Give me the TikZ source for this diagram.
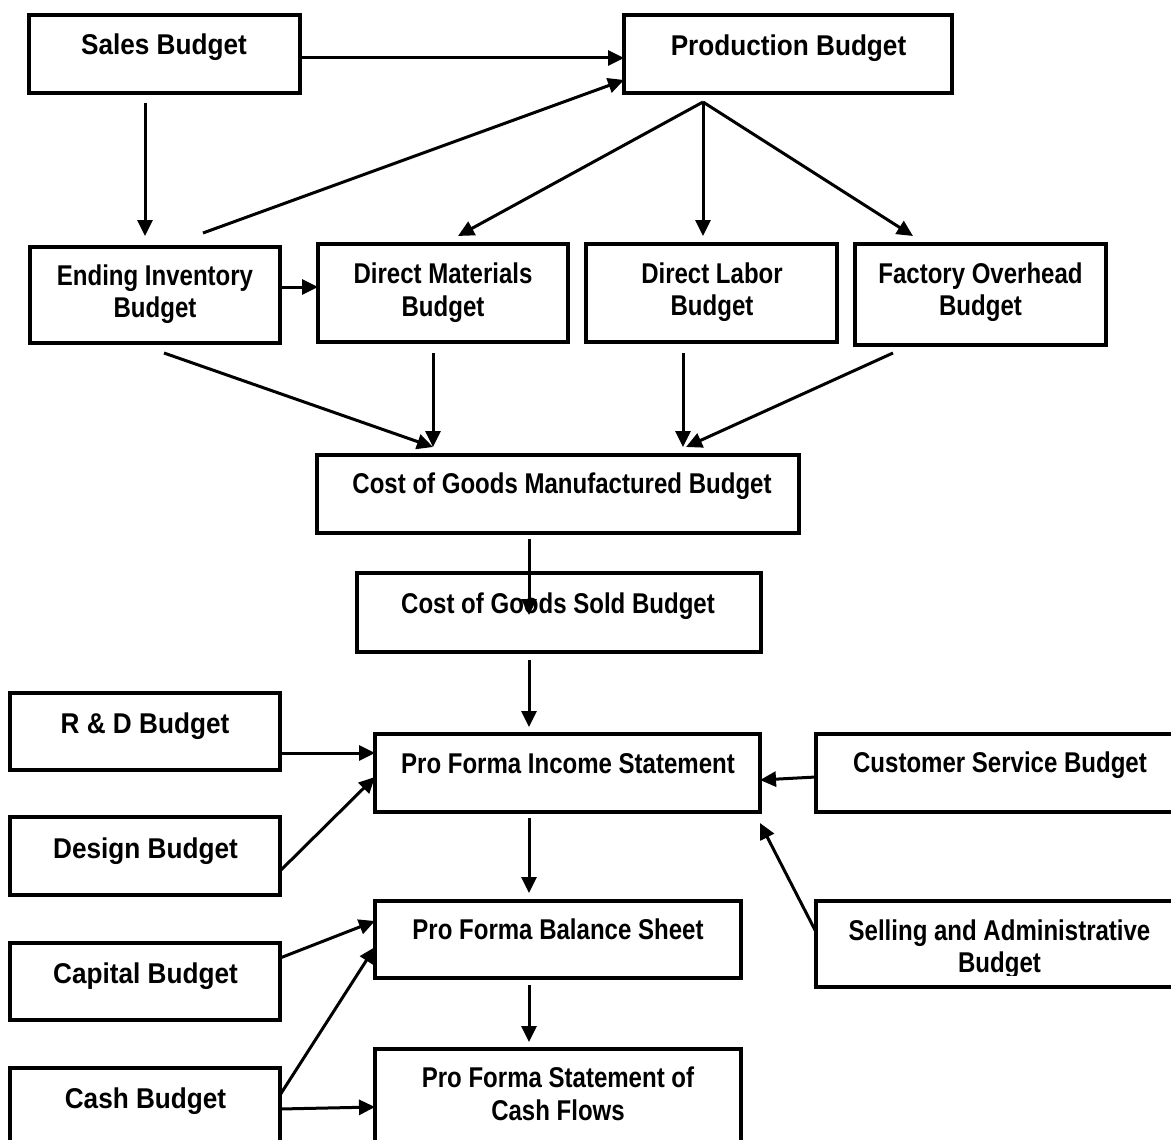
\documentclass[tikz,border=0pt]{standalone}
\usepackage{fontspec}
\newfontfamily\fa{Liberation Sans}[FakeStretch=0.84]
\newfontfamily\fb{Liberation Sans}[FakeStretch=0.915]
\usetikzlibrary{arrows.meta,calc,fit}
\begin{document}
\begin{tikzpicture}[x=1pt,y=-1pt,
  box/.style={draw, line width=3.6pt, inner sep=0pt, outer sep=0pt},
  arr/.style={line width=3pt, -{Triangle[length=16pt,width=15pt]}},
  ta/.style={anchor=base, inner sep=0pt, font=\fa\bfseries\fontsize{28.6}{32}\selectfont},
  tb/.style={anchor=base, inner sep=0pt, font=\fb\bfseries\fontsize{28.6}{32}\selectfont}]
\useasboundingbox (0,0) rectangle (1171,1140);
\fill[white] (0,0) rectangle (1171,1140);

% boxes
\node[box, fit={(29,15)(300,93)}] (sales) {};
\node[box, fit={(624,15)(952,93)}] (prod) {};
\node[box, fit={(30,247)(280,343)}] (ei) {};
\node[box, fit={(318,244)(568,342)}] (dm) {};
\node[box, fit={(586,244)(837,342)}] (dl) {};
\node[box, fit={(855,244)(1106,345)}] (fo) {};
\node[box, fit={(317,455)(799,533)}] (cgm) {};
\node[box, fit={(357,573)(761,652)}] (cgs) {};
\node[box, fit={(10,693)(280,770)}] (rd) {};
\node[box, fit={(375,734)(760,812)}] (pfis) {};
\node[box, fit={(816,734)(1190,812)}] (cs) {};
\node[box, fit={(10,817)(280,895)}] (design) {};
\node[box, fit={(816,901)(1190,987)}] (sa) {};
\node[box, fit={(375,901)(741,978)}] (pfbs) {};
\node[box, fit={(10,943)(280,1020)}] (capital) {};
\node[box, fit={(10,1068)(280,1160)}] (cash) {};
\node[box, fit={(375,1049)(741,1160)}] (pfscf) {};

% texts
\node[tb] (t1) at (164,55) {Sales Budget};
\node[tb] (t2) at (788.5,56) {Production Budget};
\node[ta] (t3) at (155,285) {Ending Inventory};
\node[ta] (t3b) at (155,317) {Budget};
\node[ta] (t4) at (443,283) {Direct Materials};
\node[ta] (t4b) at (443,316) {Budget};
\node[ta] (t5) at (712,283) {Direct Labor};
\node[ta] (t5b) at (712,315) {Budget};
\node[ta] (t6) at (980.5,283) {Factory Overhead};
\node[ta] (t6b) at (980.5,315) {Budget};
\node[ta] (t7) at (562,493) {Cost of Goods Manufactured Budget};
\node[ta] (t8) at (558,613) {Cost of Goods Sold Budget};
\node[tb] (t9) at (145,733) {R \& D Budget};
\node[ta] (t10) at (568,773) {Pro Forma Income Statement};
\node[ta] (t11) at (1000,772) {Customer Service Budget};
\node[tb] (t12) at (145.5,858) {Design Budget};
\node[ta] (t13) at (558,939) {Pro Forma Balance Sheet};
\node[ta] (t14) at (999.5,940) {Selling and Administrative};
\begin{scope}
\clip (800,950) rectangle (1190,975);
\node[ta] (t14b) at (999.5,972) {Budget};
\end{scope}
\node[tb] (t15) at (145.5,983) {Capital Budget};
\node[tb] (t16) at (145.5,1108) {Cash Budget};
\node[ta] (t17) at (558,1087) {Pro Forma Statement of};
\node[ta] (t17b) at (558,1120) {Cash Flows};

% connectors
\coordinate (apex) at ($(prod.south)+(-85,9)$);
\draw[arr] ($(sales.east)+(0,4)$) -- ($(prod.west)+(0,4)$);
\draw[arr] ($(sales.south)+(-19.5,10)$) -- ($(ei.north)+(-10,-11)$);
\draw[arr] ($(ei.north)+(48,-14)$) -- ($(prod.west)+(0,26)$);
\draw[arr] (apex) -- ($(dm.north)+(15,-8)$);
\draw[arr] (apex) -- ($(dl.north)+(-8.5,-8)$);
\draw[arr] (apex) -- ($(fo.north)+(-67.5,-8)$);
\draw[arr] ($(ei.east)+(0,-8)$) -- ($(dm.west)+(0,-6)$);
\draw[arr] ($(ei.south)+(9,10)$) -- ($(cgm.north)+(-125,-8)$);
\draw[arr] ($(dm.south)+(-10,11)$) -- ($(cgm.north)+(-125,-8)$);
\draw[arr] ($(dl.south)+(-28.5,11)$) -- ($(cgm.north)+(125,-8)$);
\draw[arr] ($(fo.south)+(-87.5,8)$) -- ($(cgm.north)+(128,-8)$);
\draw[arr] ($(cgm.south)+(-29,6)$) -- ($(cgs.north)+(-30,42)$);
\draw[arr] ($(cgs.south)+(-30,8)$) -- ($(pfis.north)+(-38.5,-7)$);
\draw[arr] ($(rd.east)+(0,21.5)$) -- ($(pfis.west)+(0,-20)$);
\draw[arr] ($(design.east)+(0,15)$) -- ($(pfis.west)+(0,4)$);
\draw[arr] ($(cs.west)+(0,4)$) -- ($(pfis.east)+(0,7)$);
\draw[arr] ($(sa.west)+(0,-12)$) -- ($(pfis.south east)+(0,11)$);
\draw[arr] ($(pfis.south)+(-38.5,6)$) -- ($(pfbs.north)+(-29,-8)$);
\draw[arr] ($(capital.east)+(0,-23.5)$) -- ($(pfbs.west)+(0,-18.5)$);
\draw[arr] ($(pfbs.south)+(-29,7)$) -- ($(pfscf.north)+(-29,-7)$);
\draw[arr] ($(cash.east)+(0,-19)$) -- ($(pfbs.west)+(0,7.5)$);
\draw[arr] ($(cash.east)+(0,-5)$) -- ($(pfscf.west)+(0,2.5)$);
\end{tikzpicture}
\end{document}
